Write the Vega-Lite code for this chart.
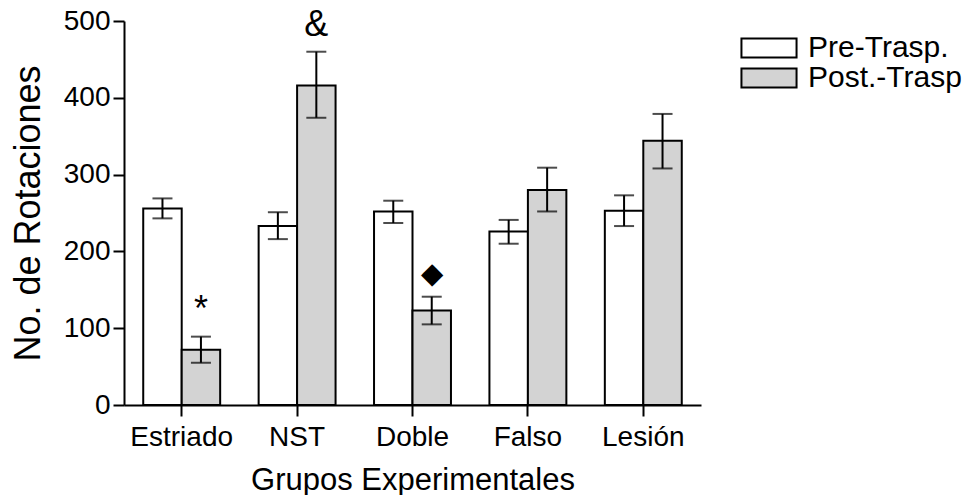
{
  "$schema": "https://vega.github.io/schema/vega-lite/v6.json",
  "width": 577,
  "height": 384,
  "autosize": {"type": "none"},
  "padding": {"left": 124, "top": 21, "right": 268, "bottom": 90},
  "config": {
    "font": "Liberation Sans",
    "view": {"stroke": null},
    "axis": {
      "grid": false,
      "domainColor": "black",
      "domainWidth": 2,
      "tickColor": "black",
      "tickWidth": 2,
      "tickSize": 11,
      "labelColor": "black",
      "labelFontSize": 28,
      "titleColor": "black",
      "titleFontWeight": "normal",
      "titleFontSize": 31
    }
  },
  "data": {
    "values": [
      {"grupo": "Estriado", "fase": "Pre-Trasp.", "media": 256, "bajo": 243, "alto": 269, "marca": ""},
      {"grupo": "Estriado", "fase": "Post.-Trasp", "media": 72, "bajo": 55, "alto": 89, "marca": "*"},
      {"grupo": "NST", "fase": "Pre-Trasp.", "media": 233, "bajo": 216, "alto": 251, "marca": ""},
      {"grupo": "NST", "fase": "Post.-Trasp", "media": 416, "bajo": 374, "alto": 460, "marca": "&"},
      {"grupo": "Doble", "fase": "Pre-Trasp.", "media": 252, "bajo": 237, "alto": 266, "marca": ""},
      {"grupo": "Doble", "fase": "Post.-Trasp", "media": 123, "bajo": 105, "alto": 141, "marca": "◆"},
      {"grupo": "Falso", "fase": "Pre-Trasp.", "media": 226, "bajo": 210, "alto": 241, "marca": ""},
      {"grupo": "Falso", "fase": "Post.-Trasp", "media": 280, "bajo": 252, "alto": 309, "marca": ""},
      {"grupo": "Lesión", "fase": "Pre-Trasp.", "media": 253, "bajo": 233, "alto": 273, "marca": ""},
      {"grupo": "Lesión", "fase": "Post.-Trasp", "media": 344, "bajo": 308, "alto": 379, "marca": ""}
    ]
  },
  "encoding": {
    "x": {
      "field": "grupo",
      "type": "nominal",
      "sort": ["Estriado", "NST", "Doble", "Falso", "Lesión"],
      "scale": {"paddingInner": 0, "paddingOuter": 0},
      "axis": {"labelAngle": 0, "labelPadding": 7, "title": "Grupos Experimentales", "titlePadding": 14}
    },
    "xOffset": {
      "field": "fase",
      "sort": ["Pre-Trasp.", "Post.-Trasp"],
      "scale": {"paddingInner": 0, "paddingOuter": 0.5}
    }
  },
  "layer": [
    {
      "mark": {"type": "bar", "stroke": "black", "strokeWidth": 2},
      "encoding": {
        "y": {
          "field": "media",
          "type": "quantitative",
          "scale": {"domain": [0, 500], "nice": false},
          "axis": {"values": [0, 100, 200, 300, 400, 500], "labelPadding": 3, "title": "No. de Rotaciones", "titleFontSize": 36, "titlePadding": 16}
        },
        "fill": {
          "field": "fase",
          "type": "nominal",
          "sort": ["Pre-Trasp.", "Post.-Trasp"],
          "scale": {"range": ["white", "#d3d3d3"]},
          "legend": {
            "title": null,
            "orient": "none",
            "legendX": 630,
            "legendY": 12,
            "symbolType": "M-2.9,-1L2.9,-1L2.9,1L-2.9,1Z",
            "symbolSize": 361,
            "symbolStrokeColor": "black",
            "symbolStrokeWidth": 2,
            "labelFontSize": 30,
            "labelColor": "black",
            "labelOffset": 24,
            "rowPadding": 0
          }
        }
      }
    },
    {
      "mark": {"type": "rule", "color": "black", "strokeWidth": 2},
      "encoding": {
        "y": {"field": "bajo", "type": "quantitative"},
        "y2": {"field": "alto"}
      }
    },
    {
      "mark": {"type": "tick", "color": "black", "thickness": 2, "size": 20},
      "encoding": {"y": {"field": "alto", "type": "quantitative"}}
    },
    {
      "mark": {"type": "tick", "color": "black", "thickness": 2, "size": 20},
      "encoding": {"y": {"field": "bajo", "type": "quantitative"}}
    },
    {
      "transform": [{"filter": "datum.marca != '' && datum.marca != '◆'"}],
      "mark": {"type": "text", "fontSize": 36, "color": "black", "baseline": "bottom", "dy": -8},
      "encoding": {
        "y": {"field": "alto", "type": "quantitative"},
        "text": {"field": "marca"}
      }
    },
    {
      "transform": [{"filter": "datum.marca == '◆'"}],
      "mark": {"type": "text", "fontSize": 29, "color": "black", "baseline": "bottom", "dy": -8},
      "encoding": {
        "y": {"field": "alto", "type": "quantitative"},
        "text": {"field": "marca"}
      }
    }
  ]
}
